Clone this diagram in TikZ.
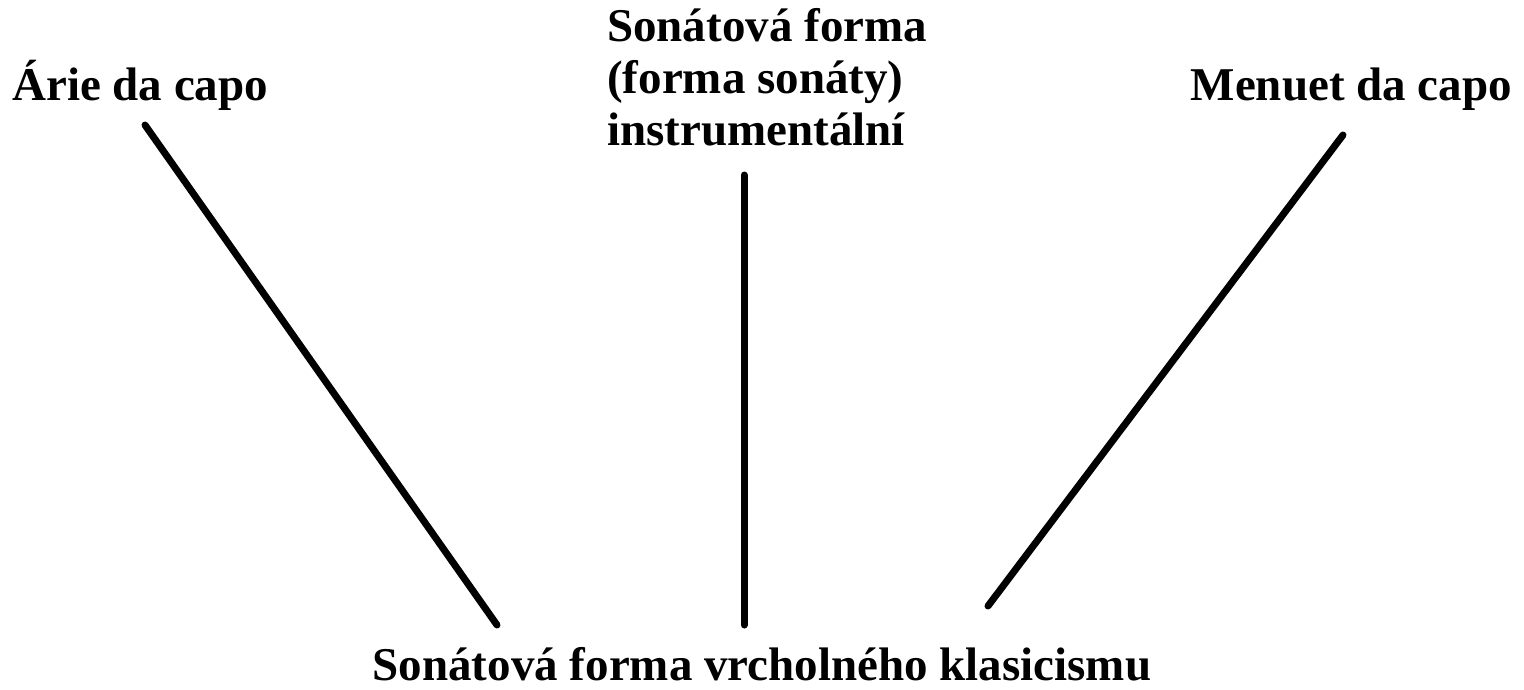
\documentclass[tikz,border=0pt]{standalone}
\usepackage{fontspec}
\setmainfont{Liberation Serif}
\begin{document}
\begin{tikzpicture}[x=1pt,y=-1pt,
  lbl/.style={font=\fontsize{47}{52}\selectfont\bfseries, inner sep=0pt, align=left},
  conn/.style={line width=7pt, line cap=round}]
\useasboundingbox[fill=white] (0,0) rectangle (1524,689);
\node[lbl, anchor=base west] (arie) at (12,100) {Árie da capo};
\node[lbl, anchor=north west] (sonata) at (607,8) {Sonátová forma\\(forma sonáty)\\instrumentální};
\node[lbl, anchor=base east] (menuet) at (1512,100) {Menuet da capo};
\node[lbl, anchor=base] (bottom) at (762,680) {Sonátová forma vrcholného klasicismu};
\coordinate (a1) at (145,125);
\coordinate (a2) at (497,625);
\coordinate (s1) at (744,175);
\coordinate (s2) at (744,625);
\coordinate (m1) at (1343,135);
\coordinate (m2) at (988,606);
\draw[conn] (a1) -- (a2);
\draw[conn] (s1) -- (s2);
\draw[conn] (m1) -- (m2);
\end{tikzpicture}
\end{document}
